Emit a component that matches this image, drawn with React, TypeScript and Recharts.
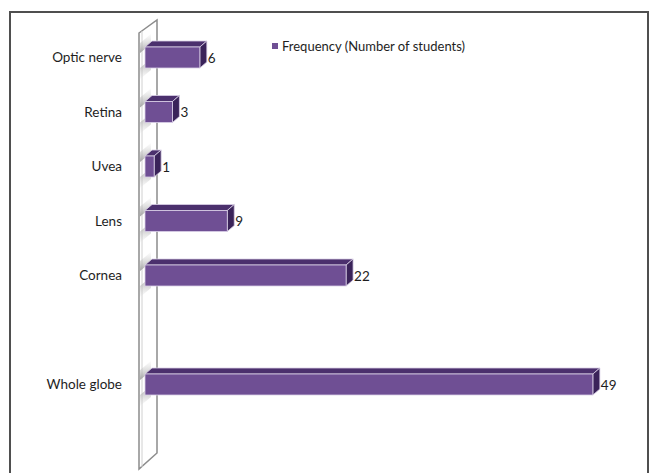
import { Bar, BarChart, LabelList, XAxis, YAxis } from "recharts";

// body parts asked about, top to bottom (blank rows keep the gaps)
const categories = ["Optic nerve", "Retina", "Uvea", "Lens", "Cornea", "", "Whole globe", ""];
const frequency = [6, 3, 1, 9, 22, null, 49, null];
const seriesName = "Frequency (Number of students)";

const data = categories.map((name, i) => ({ name, value: frequency[i] }));

const W = 657;
const H = 473;
const PLOT_LEFT = 145;
const PLOT_TOP = 30;
const PLOT_BOTTOM = 466;
const PLOT_RIGHT = 602;
const DX = 7;
const DY = 6;

const FRONT = "#6f4f94";
const TOP = "#4b306d";
const SIDE = "#3a2359";
const FONT = "Lato, 'Open Sans', sans-serif";
const INK = "#1e1e1e";

function Bar3D(props: any) {
    const { x, y, width, height } = props;
    if (!width || width <= 0) return null;
    return (
        <g>
            <defs>
                <linearGradient id="shUp" x1="0" y1="1" x2="0" y2="0">
                    <stop offset="0" stopColor="#9a9a9a" stopOpacity={0.9} />
                    <stop offset="1" stopColor="#d8d8d8" stopOpacity={0.1} />
                </linearGradient>
                <linearGradient id="shDown" x1="0" y1="0" x2="0" y2="1">
                    <stop offset="0" stopColor="#9a9a9a" stopOpacity={0.9} />
                    <stop offset="1" stopColor="#d8d8d8" stopOpacity={0.1} />
                </linearGradient>
            </defs>
            {/* shading cast on the wall */}
            <polygon
                points={`${x - 5},${y - 4} ${x + 6},${y - 13} ${x + 6},${y - 3} ${x - 5},${y + 6}`}
                fill="url(#shUp)"
            />
            <polygon
                points={`${x - 5},${y + height} ${x + 6},${y + height - 9} ${x + 6},${y + height + 2} ${x - 5},${y + height + 11}`}
                fill="url(#shDown)"
            />
            <polygon
                points={`${x},${y} ${x + DX},${y - DY} ${x + width + DX},${y - DY} ${x + width},${y}`}
                fill={TOP}
                stroke="#d9cfe6"
                strokeWidth={0.8}
            />
            <polygon
                points={`${x + width},${y} ${x + width + DX},${y - DY} ${x + width + DX},${y + height - DY} ${x + width},${y + height}`}
                fill={SIDE}
                stroke="#d9cfe6"
                strokeWidth={0.8}
            />
            <rect x={x} y={y} width={width} height={height} fill={FRONT} stroke="#d9cfe6" strokeWidth={0.8} />
        </g>
    );
}

function ValueLabel(props: any) {
    const { x, y, width, height, value } = props;
    if (value == null) return null;
    return (
        <text
            x={x + width + DX + 1}
            y={y + height / 2}
            dominantBaseline="central"
            fontFamily={FONT}
            fontSize={13.5}
            fill={INK}
        >
            {value}
        </text>
    );
}

// the side wall standing behind the bars
function Wall() {
    const wx = PLOT_LEFT - 6;
    const bx = PLOT_LEFT + 12;
    return (
        <svg width={W} height={H} style={{ position: "absolute", left: 0, top: 0 }}>
            <polygon
                points={`${wx},${PLOT_TOP + 3} ${bx},${PLOT_TOP - 10} ${bx},${PLOT_BOTTOM - 13} ${wx},${PLOT_BOTTOM + 3}`}
                fill="#ffffff"
                stroke="#8c8c8c"
                strokeWidth={1.5}
            />
            <line x1={wx + 3} y1={PLOT_TOP + 1} x2={wx + 3} y2={PLOT_BOTTOM + 1} stroke="#d0d0d0" strokeWidth={1} />
        </svg>
    );
}

export default function App() {
    return (
        <div style={{ position: "absolute", left: 0, top: 0, width: W, height: H, overflow: "hidden", background: "#fff" }}>
            <div
                style={{
                    position: "absolute",
                    left: 9,
                    top: 11,
                    width: 636,
                    height: 480,
                    border: "2px solid #4f4f4f",
                }}
            />
            <Wall />
            <div style={{ position: "absolute", left: 0, top: 0 }}>
                <BarChart
                    width={W}
                    height={H}
                    data={data}
                    layout="vertical"
                    margin={{ top: PLOT_TOP, right: W - PLOT_RIGHT, bottom: H - PLOT_BOTTOM, left: 0 }}
                >
                    <XAxis type="number" domain={[0, 50]} hide />
                    <YAxis
                        type="category"
                        dataKey="name"
                        width={PLOT_LEFT}
                        axisLine={false}
                        tickLine={false}
                        tickSize={0}
                        tickMargin={23}
                        tick={{ fontFamily: FONT, fontSize: 13.5, fill: INK }}
                    />
                    <Bar dataKey="value" name={seriesName} barSize={21} shape={<Bar3D />} isAnimationActive={false}>
                        <LabelList dataKey="value" content={<ValueLabel />} />
                    </Bar>
                </BarChart>
            </div>
            <div
                style={{
                    position: "absolute",
                    left: 272,
                    top: 38,
                    fontFamily: FONT,
                    fontSize: 13,
                    color: INK,
                    display: "flex",
                    alignItems: "center",
                    whiteSpace: "nowrap",
                }}
            >
                <span style={{ display: "inline-block", width: 6, height: 6, background: FRONT, marginRight: 4 }} />
                {seriesName}
            </div>
        </div>
    );
}
